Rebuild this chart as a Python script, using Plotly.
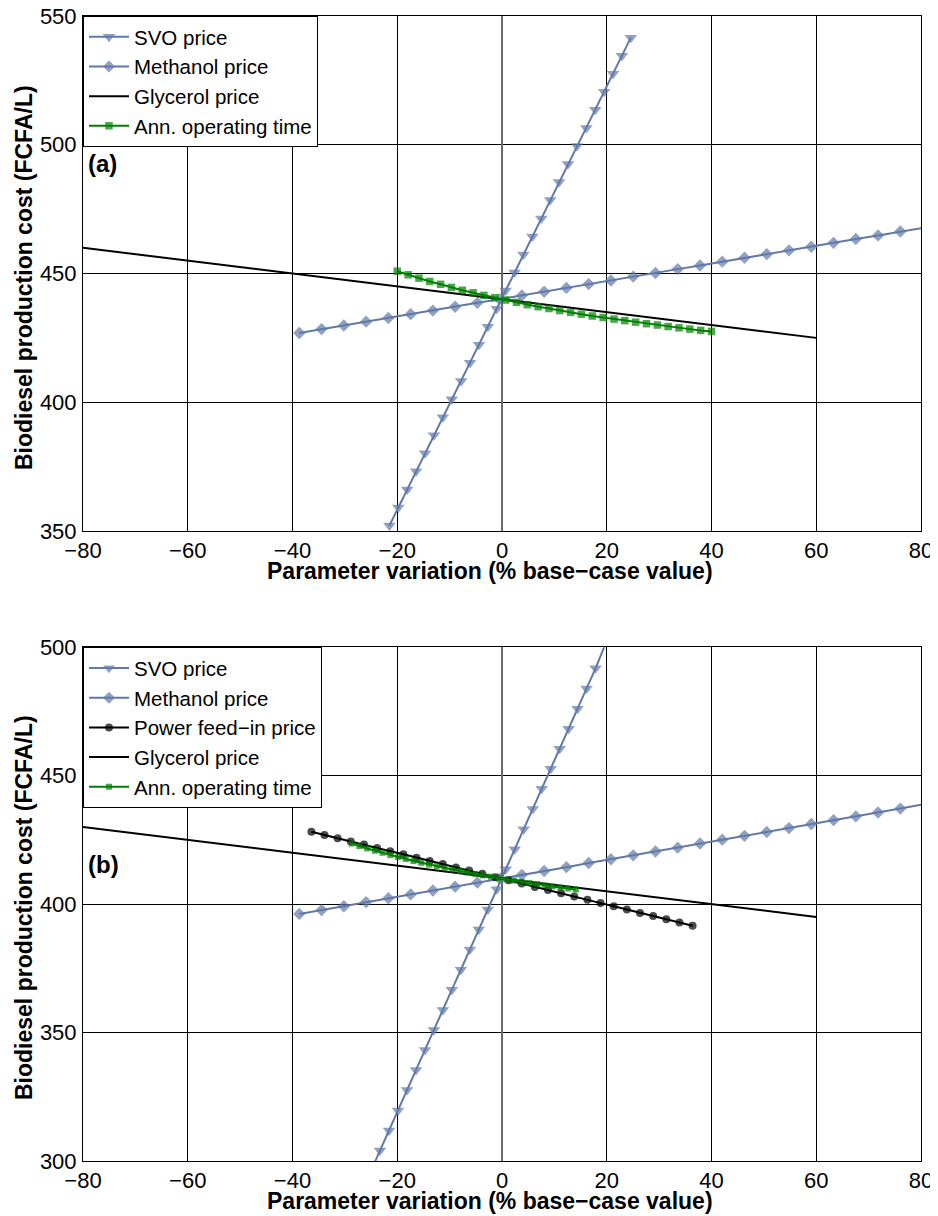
import plotly.graph_objects as go

# ---------------- data: panel (a) ----------------
a_svo_x = [-21.5, -19.8, -18.1, -16.4, -14.7, -13.0, -11.3, -9.6, -7.8, -6.1, -4.4, -2.7, -1.0, 0.7,
           2.4, 4.1, 5.8, 7.5, 9.2, 10.9, 12.6, 14.3, 16.1, 17.8, 19.5, 21.2, 22.9, 24.6]
a_svo_y = [352.1, 359.1, 366.1, 373.2, 380.2, 387.2, 394.2, 401.2, 408.3, 415.3, 422.3, 429.3, 436.3, 443.4,
           450.4, 457.4, 464.4, 471.4, 478.5, 485.5, 492.5, 499.5, 506.5, 513.6, 520.6, 527.6, 534.6, 541.6]

a_meth_x = [-38.7, -34.45, -30.2, -25.95, -21.7, -17.45, -13.2, -8.95, -4.7, -0.45, 3.8, 8.05, 12.3, 16.55,
            20.8, 25.05, 29.3, 33.55, 37.8, 42.05, 46.3, 50.55, 54.8, 59.05, 63.3, 67.55, 71.8, 76.05, 80.3]
a_meth_y = [426.9, 428.4, 429.8, 431.3, 432.7, 434.2, 435.6, 437.1, 438.6, 440.0, 441.5, 442.9, 444.4, 445.9,
            447.3, 448.8, 450.2, 451.7, 453.1, 454.6, 456.1, 457.5, 459.0, 460.4, 461.9, 463.4, 464.8, 466.3, 467.7]

a_gly_x = [-80, -60, -40, -20, 0, 20, 40, 60]
a_gly_y = [460, 455, 450, 445, 440, 435, 430, 425]

a_ann_x = [-20.0, -17.93, -15.86, -13.79, -11.72, -9.66, -7.59, -5.52, -3.45, -1.38, 0.69, 2.76, 4.83, 6.90,
           8.97, 11.03, 13.10, 15.17, 17.24, 19.31, 21.38, 23.45, 25.52, 27.59, 29.66, 31.72, 33.79, 35.86,
           37.93, 40.0]
a_ann_y = [450.9, 449.5, 448.2, 446.9, 445.8, 444.6, 443.5, 442.5, 441.5, 440.6, 439.7, 438.8, 437.9, 437.1,
           436.4, 435.6, 434.9, 434.2, 433.5, 432.9, 432.3, 431.7, 431.1, 430.5, 430.0, 429.4, 428.9, 428.4,
           427.9, 427.5]

# ---------------- data: panel (b) ----------------
b_svo_x = [-24.99, -23.3, -21.57, -19.85, -18.14, -16.42, -14.71, -13.0, -11.28, -9.57, -7.85, -6.14, -4.43,
           -2.71, -1.0, 0.72, 2.43, 4.14, 5.86, 7.57, 9.29, 11.0, 12.71, 14.43, 16.14, 17.86, 19.57]
b_svo_y = [296.3, 304.1, 311.9, 319.7, 327.6, 335.4, 343.2, 351.0, 358.8, 366.7, 374.5, 382.3, 390.1,
           397.9, 405.8, 413.6, 421.4, 429.2, 437.0, 444.9, 452.7, 460.5, 468.3, 476.1, 484.0, 491.8, 500.4]

b_meth_x = a_meth_x
b_meth_y = [396.2, 397.7, 399.2, 400.8, 402.3, 403.8, 405.3, 406.8, 408.4, 409.9, 411.4, 412.9, 414.4, 416.0,
            417.5, 419.0, 420.5, 422.0, 423.6, 425.1, 426.6, 428.1, 429.6, 431.2, 432.7, 434.2, 435.7, 437.2, 438.8]

b_pow_x = [-36.4, -33.89, -31.38, -28.87, -26.36, -23.85, -21.34, -18.83, -16.32, -13.81, -11.3, -8.79, -6.28,
           -3.77, -1.26, 1.25, 3.76, 6.27, 8.78, 11.29, 13.8, 16.31, 18.82, 21.33, 23.84, 26.35, 28.86, 31.37,
           33.88, 36.39]
b_pow_y = [428.2, 426.9, 425.7, 424.4, 423.2, 421.9, 420.6, 419.4, 418.1, 416.8, 415.6, 414.3, 413.1, 411.8,
           410.5, 409.3, 408.0, 406.7, 405.5, 404.2, 403.0, 401.7, 400.4, 399.2, 397.9, 396.6, 395.4, 394.1,
           392.9, 391.6]

b_gly_x = [-80, -60, -40, -20, 0, 20, 40, 60]
b_gly_y = [430, 425, 420, 415, 410, 405, 400, 395]

b_ann_x = [-28.7, -27.22, -25.75, -24.27, -22.80, -21.32, -19.84, -18.37, -16.89, -15.42, -13.94, -12.46,
           -10.99, -9.51, -8.04, -6.56, -5.08, -3.61, -2.13, -0.66, 0.82, 2.30, 3.77, 5.25, 6.72, 8.20, 9.68,
           11.15, 12.63, 14.10]
b_ann_y = [423.6, 422.6, 421.7, 420.8, 420.0, 419.1, 418.3, 417.6, 416.8, 416.1, 415.4, 414.8, 414.1, 413.5,
           412.9, 412.3, 411.7, 411.2, 410.7, 410.2, 409.6, 409.2, 408.7, 408.2, 407.8, 407.3, 406.9, 406.5,
           406.1, 405.7]

x_range = [-80, 80]
a_y_range = [350, 550]
b_y_range = [300, 500]
x_ticks = [-80, -60, -40, -20, 0, 20, 40, 60, 80]
a_y_ticks = [350, 400, 450, 500, 550]
b_y_ticks = [300, 350, 400, 450, 500]

labels_a = ["SVO price", "Methanol price", "Glycerol price", "Ann. operating time"]
labels_b = ["SVO price", "Methanol price", "Power feed\u2212in price", "Glycerol price", "Ann. operating time"]
x_title = "Parameter variation (% base\u2212case value)"
y_title = "Biodiesel production cost (FCFA/L)"

# ---------------- layout geometry (page pixels; page body has an 8px margin) ----------------
OFF = 8
W, H = 938, 1216
PLOT_L, PLOT_R, PLOT_T, PLOT_B = 83, 921, 16, 1161   # page pixels
ML, MR, MT, MB = PLOT_L - OFF, (W + OFF) - PLOT_R, PLOT_T - OFF, (H + OFF) - PLOT_B
PW, PH = PLOT_R - PLOT_L, PLOT_B - PLOT_T


def py(p):
    return (PLOT_B - p) / PH


def px(p):
    return (p - PLOT_L) / PW


BLUE = "#6179A8"
GREEN = "#008000"
BLACK = "#000000"
FONT = "Liberation Sans, Arial, Helvetica, sans-serif"


def vis_sizes(xs, ys, base, yr):
    return [base if (x_range[0] <= x <= x_range[1] and yr[0] <= y <= yr[1]) else 0
            for x, y in zip(xs, ys)]


fig = go.Figure()


def add(xs, ys, name, color, symbol, size, xa, ya, leg, yr, width=2):
    mode = "lines+markers" if symbol else "lines"
    marker = dict(symbol=symbol, size=vis_sizes(xs, ys, size, yr), color=color,
                  line=dict(width=0)) if symbol else None
    fig.add_trace(go.Scatter(x=xs, y=ys, name=name, mode=mode,
                             line=dict(color=color, width=width),
                             marker=marker, xaxis=xa, yaxis=ya, legend=leg))


# panel (a)
add(a_svo_x, a_svo_y, labels_a[0], BLUE, "triangle-down", 11, "x", "y", "legend", a_y_range)
add(a_meth_x, a_meth_y, labels_a[1], BLUE, "diamond", 9.5, "x", "y", "legend", a_y_range)
add(a_gly_x, a_gly_y, labels_a[2], BLACK, None, 0, "x", "y", "legend", a_y_range)
add(a_ann_x, a_ann_y, labels_a[3], GREEN, "square", 7.5, "x", "y", "legend", a_y_range)
# panel (b)
add(b_svo_x, b_svo_y, labels_b[0], BLUE, "triangle-down", 11, "x2", "y2", "legend2", b_y_range)
add(b_meth_x, b_meth_y, labels_b[1], BLUE, "diamond", 9.5, "x2", "y2", "legend2", b_y_range)
add(b_pow_x, b_pow_y, labels_b[2], BLACK, "circle", 8, "x2", "y2", "legend2", b_y_range)
add(b_gly_x, b_gly_y, labels_b[3], BLACK, None, 0, "x2", "y2", "legend2", b_y_range)
add(b_ann_x, b_ann_y, labels_b[4], GREEN, "square", 6, "x2", "y2", "legend2", b_y_range)

axis_common = dict(showgrid=True, gridcolor=BLACK, gridwidth=1, showline=True, linecolor=BLACK,
                   linewidth=1, mirror=True, ticks="", ticklabeloverflow="allow",
                   tickfont=dict(family=FONT, size=22, color=BLACK))
x_axis_extra = dict(zeroline=True, zerolinecolor="#6a6a6a", zerolinewidth=2)
y_axis_extra = dict(zeroline=False)

top_dom = [py(531), py(16)]
bot_dom = [py(1161), py(647.3)]

legend_common = dict(x=0, xanchor="left", yanchor="top", bgcolor="white", bordercolor=BLACK,
                     borderwidth=1, itemwidth=40, font=dict(family=FONT, size=20.5, color=BLACK))

fig.update_layout(
    width=W, height=H, margin=dict(l=ML, r=MR, t=MT, b=MB, autoexpand=False),
    paper_bgcolor="white", plot_bgcolor="white", font=dict(family=FONT, color=BLACK),
    xaxis=dict(domain=[0, 1], anchor="y", range=x_range, tickvals=x_ticks, ticklabelstandoff=0,
               **axis_common, **x_axis_extra),
    yaxis=dict(domain=top_dom, anchor="x", range=a_y_range, tickvals=a_y_ticks, ticklabelstandoff=1,
               **axis_common, **y_axis_extra),
    xaxis2=dict(domain=[0, 1], anchor="y2", range=x_range, tickvals=x_ticks, ticklabelstandoff=0,
                **axis_common, **x_axis_extra),
    yaxis2=dict(domain=bot_dom, anchor="x2", range=b_y_range, tickvals=b_y_ticks, ticklabelstandoff=1,
                **axis_common, **y_axis_extra),
    legend=dict(y=top_dom[1], **legend_common),
    legend2=dict(y=bot_dom[1], **legend_common),
    showlegend=True,
)

ann = []
title_font = dict(family=FONT, size=23, color=BLACK)
for xt_pix, yt_pix in ((571, 278), (1201, 908)):
    ann.append(dict(text="<b>" + x_title + "</b>", xref="paper", yref="paper", x=px(490), y=py(xt_pix),
                    xanchor="center", yanchor="middle", showarrow=False, font=title_font))
    ann.append(dict(text="<b>" + y_title + "</b>", xref="paper", yref="paper", x=px(24),
                    y=py(yt_pix), xanchor="center", yanchor="middle", textangle=-90,
                    showarrow=False, font=title_font))
ann.append(dict(text="<b>(a)</b>", xref="paper", yref="paper", x=px(86), y=py(163), xanchor="left",
                yanchor="middle", showarrow=False, font=dict(family=FONT, size=24, color=BLACK)))
ann.append(dict(text="<b>(b)</b>", xref="paper", yref="paper", x=px(86), y=py(864), xanchor="left",
                yanchor="middle", showarrow=False, font=dict(family=FONT, size=24, color=BLACK)))
fig.update_layout(annotations=ann)

fig.write_html("out.html")
